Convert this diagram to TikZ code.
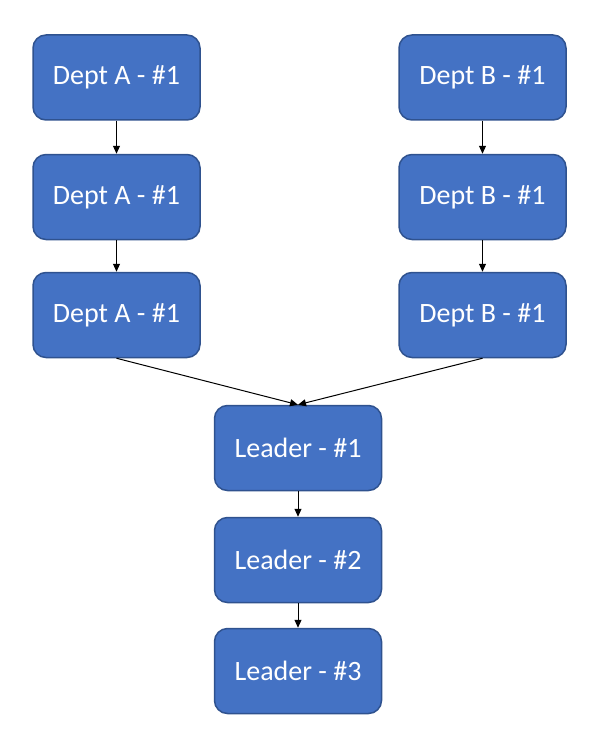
\documentclass[tikz,border=0pt]{standalone}
\usepackage{fontspec}
\setmainfont{Carlito}
\usetikzlibrary{arrows.meta}

\begin{document}
\begin{tikzpicture}[
            x=1pt, y=-1pt,
            >={Triangle[length=8pt, width=7pt]},
            step_box/.style={rectangle, rounded corners=13pt, draw=boxborder, line width=1.5pt, fill=boxfill,
                minimum width=167pt, minimum height=85pt, text=white, font=\fontsize{28}{33}\selectfont},
            link/.style={->, line width=1pt, black}
        ]
        \definecolor{boxfill}{HTML}{4472C4}
        \definecolor{boxborder}{HTML}{2F528F}

        \useasboundingbox (0,0) rectangle (611,741);

        % Colonna Dept A
        \node[step_box] (a1) at (116.5, 77.5) {Dept A - \#1};
        \node[step_box] (a2) at (116.5, 197) {Dept A - \#1};
        \node[step_box] (a3) at (116.5, 315) {Dept A - \#1};

        % Colonna Dept B
        \node[step_box] (b1) at (482.5, 77.5) {Dept B - \#1};
        \node[step_box] (b2) at (482.5, 197) {Dept B - \#1};
        \node[step_box] (b3) at (482.5, 315) {Dept B - \#1};

        % Colonna Leader
        \node[step_box] (l1) at (298, 448) {Leader - \#1};
        \node[step_box] (l2) at (298, 560) {Leader - \#2};
        \node[step_box] (l3) at (298, 671) {Leader - \#3};

        % Frecce
        \draw[link] (a1) -- (a2);
        \draw[link] (a2) -- (a3);
        \draw[link] (b1) -- (b2);
        \draw[link] (b2) -- (b3);
        \draw[link] (a3.south) -- (l1.north);
        \draw[link] (b3.south) -- (l1.north);
        \draw[link] (l1) -- (l2);
        \draw[link] (l2) -- (l3);

\end{tikzpicture}
\end{document}
